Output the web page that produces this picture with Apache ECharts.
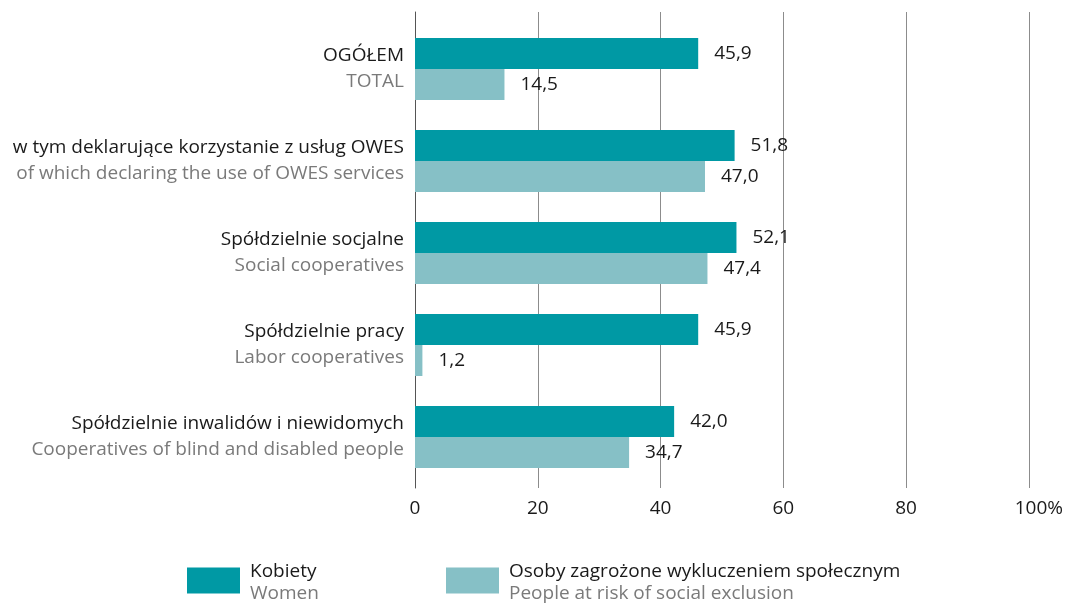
<!DOCTYPE html>
<html>
<head>
<meta charset="utf-8">
<script src="https://cdn.jsdelivr.net/npm/echarts@6/dist/echarts.min.js"></script>
<style>
  html, body { margin: 0; padding: 0; background: #fff; }
  #chart { width: 1066px; height: 603px; }
</style>
</head>
<body>
<div id="chart"></div>
<script>
// kategorie (PL / EN)
const catPl = ['OGÓŁEM', 'w tym deklarujące korzystanie z usług OWES', 'Spółdzielnie socjalne', 'Spółdzielnie pracy', 'Spółdzielnie inwalidów i niewidomych'];
const catEn = ['TOTAL', 'of which declaring the use of OWES services', 'Social cooperatives', 'Labor cooperatives', 'Cooperatives of blind and disabled people'];
const women = [45.9, 51.8, 52.1, 45.9, 42.0];
const atRisk = [14.5, 47.0, 47.4, 1.2, 34.7];
const xTicks = [0, 20, 40, 60, 80, 100];
const seriesNames = ['Kobiety', 'Osoby zagrożone wykluczeniem społecznym'];
const seriesNamesEn = ['Women', 'People at risk of social exclusion'];

const FONT = 'Open Sans';
const FS = 19;
const DARK = '#0099a4';
const LIGHT = '#86c0c6';

let myChart = echarts.init(document.getElementById('chart'));

function fmt(v) {
  return v.toFixed(1).replace('.', ',');
}

function legendFor(i, left) {
  return {
    data: [seriesNames[i]],
    left: left,
    top: 557,
    icon: 'rect',
    itemWidth: 53,
    itemHeight: 26,
    selectedMode: false,
    formatter: function (name) {
      return '{a|' + name + '}\n{b|' + seriesNamesEn[i] + '}';
    },
    textStyle: {
      fontFamily: FONT,
      padding: [4, 0, 0, 5],
      rich: {
        a: { fontFamily: FONT, fontSize: FS, color: '#1a1a1a', lineHeight: 22 },
        b: { fontFamily: FONT, fontSize: FS, color: '#7a7a7a', lineHeight: 22 }
      }
    }
  };
}

myChart.setOption({
  animation: false,
  textStyle: { fontFamily: FONT },
  legend: [legendFor(0, 182), legendFor(1, 441)],
  grid: [
    { left: 415, width: 617, top: 23, height: 460 },
    { left: 415, width: 617, top: 12, bottom: 115 }
  ],
  xAxis: [{
    gridIndex: 0,
    type: 'value',
    min: 0, max: 100, interval: 20,
    axisLine: { show: false },
    axisTick: { show: false },
    axisLabel: { show: false },
    splitLine: { show: false }
  }, {
    gridIndex: 1,
    type: 'value',
    min: 0, max: 100, interval: 20,
    axisLine: { show: false },
    axisTick: { show: false },
    axisLabel: {
      margin: 11,
      fontSize: FS,
      color: '#1a1a1a',
      fontFamily: FONT,
      formatter: function (v) {
        return v === xTicks[xTicks.length - 1] ? '{h|}' + v + '%' : String(v);
      },
      rich: { h: { width: 20 } }
    },
    splitLine: { lineStyle: { color: '#8c8c8c', width: 1 } }
  }],
  yAxis: [{
    gridIndex: 0,
    type: 'category',
    inverse: true,
    data: catPl,
    axisLine: { show: false },
    axisTick: { show: false },
    axisLabel: {
      margin: 11,
      formatter: function (v, idx) {
        return '{a|' + v + '}\n{b|' + catEn[idx] + '}';
      },
      rich: {
        a: { fontFamily: FONT, fontSize: FS, color: '#1a1a1a', lineHeight: 26, align: 'right' },
        b: { fontFamily: FONT, fontSize: FS, color: '#7a7a7a', lineHeight: 26, align: 'right' }
      }
    }
  }, {
    gridIndex: 1,
    type: 'value',
    min: 0, max: 1,
    axisLine: { show: true, lineStyle: { color: '#555', width: 1 } },
    axisTick: { show: false },
    axisLabel: { show: false },
    splitLine: { show: false }
  }],
  series: [{
    name: seriesNames[0],
    type: 'bar',
    xAxisIndex: 0, yAxisIndex: 0,
    data: women,
    barWidth: 31,
    barGap: '0%',
    itemStyle: { color: DARK },
    label: {
      show: true, position: 'right', distance: 16,
      fontSize: FS, color: '#1a1a1a', fontFamily: FONT,
      padding: [6, 0, 0, 0],
      formatter: function (p) { return fmt(p.value); }
    }
  }, {
    name: seriesNames[1],
    type: 'bar',
    xAxisIndex: 0, yAxisIndex: 0,
    data: atRisk,
    barWidth: 31,
    barGap: '0%',
    itemStyle: { color: LIGHT },
    label: {
      show: true, position: 'right', distance: 16,
      fontSize: FS, color: '#1a1a1a', fontFamily: FONT,
      padding: [2, 0, 0, 0],
      formatter: function (p) { return fmt(p.value); }
    }
  }]
});
</script>
</body>
</html>
